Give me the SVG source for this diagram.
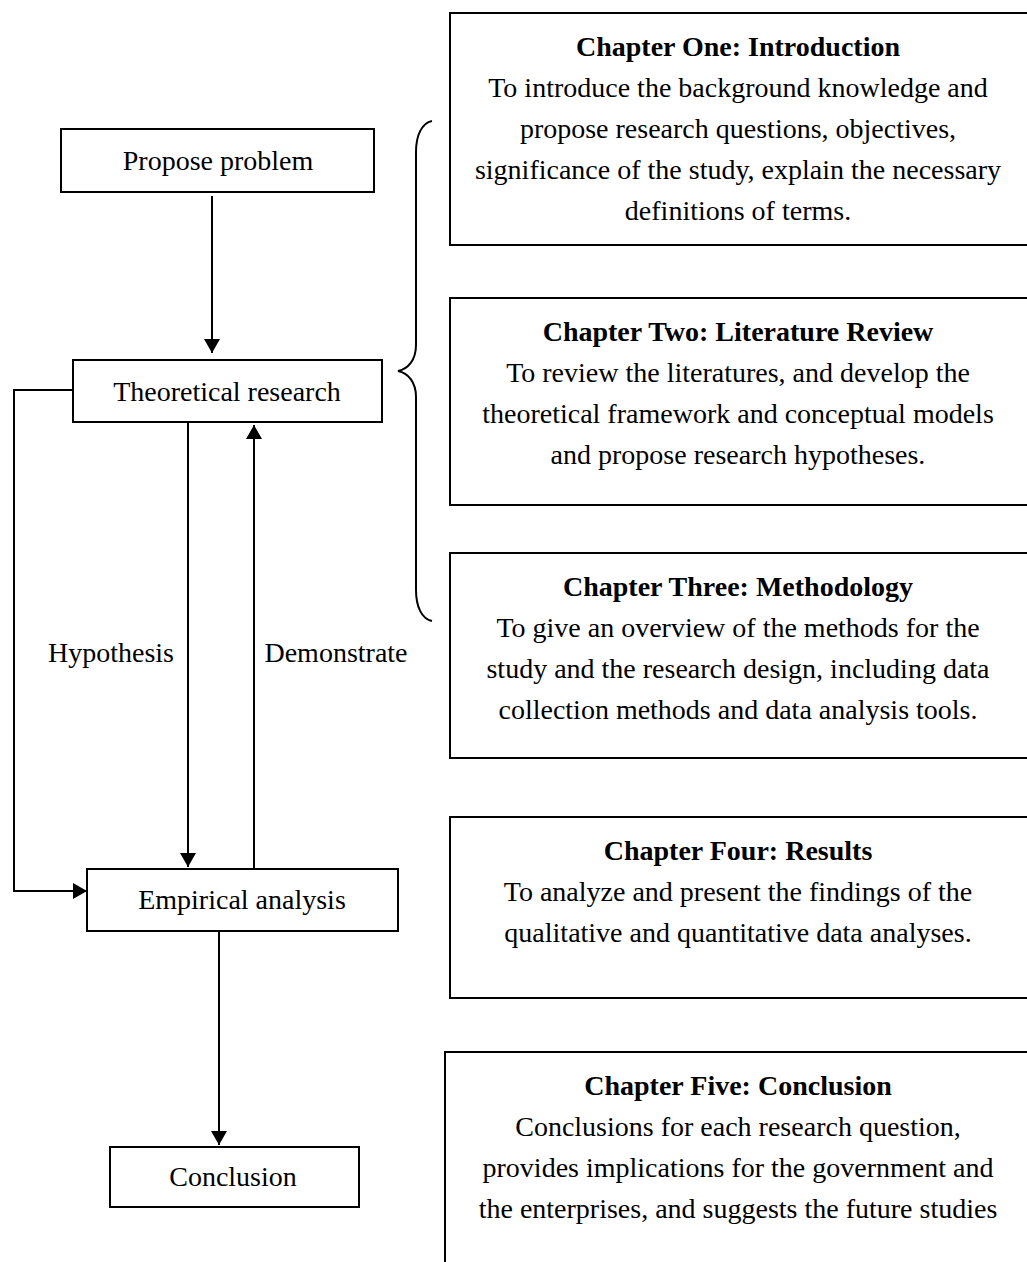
<svg xmlns="http://www.w3.org/2000/svg" width="1027" height="1262" viewBox="0 0 1027 1262">
<defs>
<style>
.box{fill:#fff;stroke:#000;stroke-width:2}
.cbox{fill:#fff;stroke:#000;stroke-width:2}
.t{font-family:"Liberation Serif","Times New Roman",serif;font-size:28px;fill:#000;text-anchor:middle}
.b{font-weight:bold}
.ln{fill:none;stroke:#000;stroke-width:2}
</style>
<marker id="ah" viewBox="0 0 14 16" refX="14" refY="8" markerWidth="14" markerHeight="16" markerUnits="userSpaceOnUse" orient="auto">
<path d="M0,0 L14,8 L0,16 Z" fill="#000"/>
</marker>
</defs>
<rect width="1027" height="1262" fill="#fff"/>

<g id="connectors">
<line class="ln" x1="212" y1="196" x2="212" y2="353" marker-end="url(#ah)"/>
<line class="ln" x1="188" y1="422" x2="188" y2="867" marker-end="url(#ah)"/>
<line class="ln" x1="254" y1="869" x2="254" y2="425" marker-end="url(#ah)"/>
<polyline class="ln" points="73,390 14,390 14,891 87,891" marker-end="url(#ah)"/>
<line class="ln" x1="219" y1="931" x2="219" y2="1145" marker-end="url(#ah)"/>
<text class="t" x="111" y="662">Hypothesis</text>
<text class="t" x="336" y="662">Demonstrate</text>
</g>

<g id="brace">
<path class="ln" stroke-width="1.6" d="M432,121 C422,123 416,135 416,152 L416,345 C416,360 408,369 398,371 C408,373 416,382 416,397 L416,590 C416,607 422,619 432,621"/>
</g>

<g id="propose">
<rect class="box" x="61" y="129" width="313" height="63"/>
<text class="t" x="218" y="170">Propose problem</text>
</g>
<g id="theoretical">
<rect class="box" x="73" y="360" width="309" height="62"/>
<text class="t" x="227" y="401">Theoretical research</text>
</g>
<g id="empirical">
<rect class="box" x="87" y="869" width="311" height="62"/>
<text class="t" x="242" y="909">Empirical analysis</text>
</g>
<g id="conclusion">
<rect class="box" x="110" y="1147" width="249" height="60"/>
<text class="t" x="233" y="1186">Conclusion</text>
</g>

<g id="ch1">
<rect class="cbox" x="450" y="13" width="590" height="232"/>
<text class="t b" x="738" y="56">Chapter One: Introduction</text>
<text class="t" x="738" y="97">To introduce the background knowledge and</text>
<text class="t" x="738" y="138">propose research questions, objectives,</text>
<text class="t" x="738" y="179">significance of the study, explain the necessary</text>
<text class="t" x="738" y="220">definitions of terms.</text>
</g>
<g id="ch2">
<rect class="cbox" x="450" y="298" width="590" height="207"/>
<text class="t b" x="738" y="341">Chapter Two: Literature Review</text>
<text class="t" x="738" y="382">To review the literatures, and develop the</text>
<text class="t" x="738" y="423">theoretical framework and conceptual models</text>
<text class="t" x="738" y="464">and propose research hypotheses.</text>
</g>
<g id="ch3">
<rect class="cbox" x="450" y="553" width="590" height="205"/>
<text class="t b" x="738" y="596">Chapter Three: Methodology</text>
<text class="t" x="738" y="637">To give an overview of the methods for the</text>
<text class="t" x="738" y="678">study and the research design, including data</text>
<text class="t" x="738" y="719">collection methods and data analysis tools.</text>
</g>
<g id="ch4">
<rect class="cbox" x="450" y="817" width="590" height="181"/>
<text class="t b" x="738" y="860">Chapter Four: Results</text>
<text class="t" x="738" y="901">To analyze and present the findings of the</text>
<text class="t" x="738" y="942">qualitative and quantitative data analyses.</text>
</g>
<g id="ch5">
<rect class="cbox" x="445" y="1052" width="595" height="230"/>
<text class="t b" x="738" y="1095">Chapter Five: Conclusion</text>
<text class="t" x="738" y="1136">Conclusions for each research question,</text>
<text class="t" x="738" y="1177">provides implications for the government and</text>
<text class="t" x="738" y="1218">the enterprises, and suggests the future studies</text>
</g>
</svg>
